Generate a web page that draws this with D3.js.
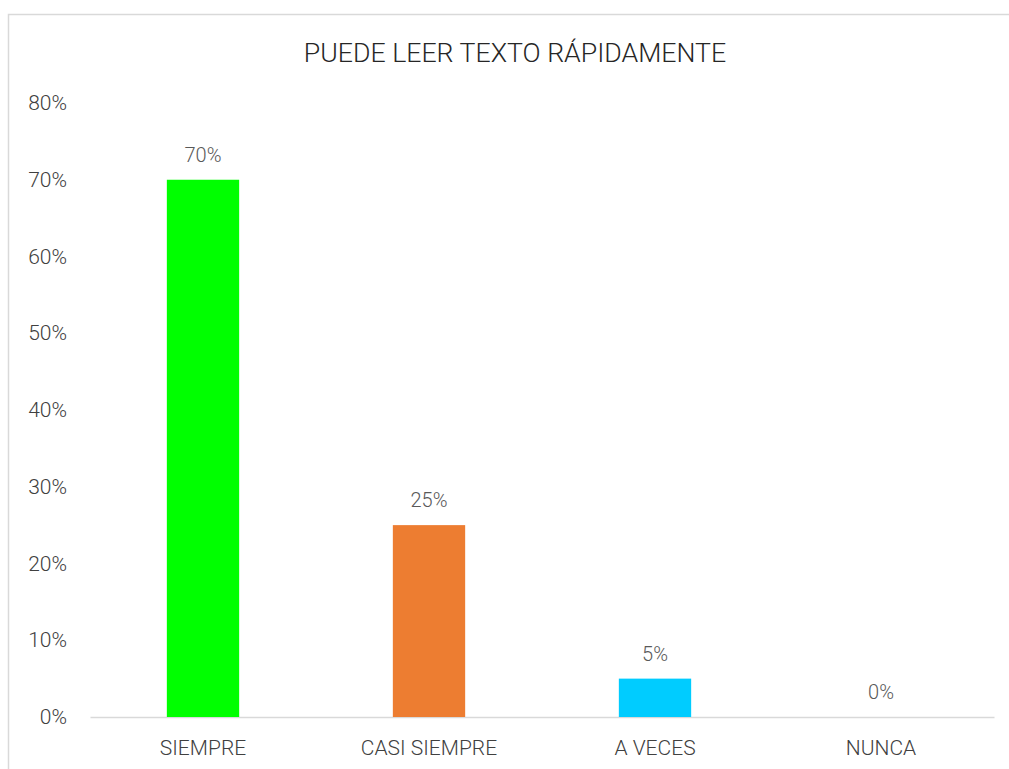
<!DOCTYPE html>
<html lang="es">
<head>
    <meta charset="UTF-8">
    <title>Puede leer texto rápidamente</title>
    <script src="https://d3js.org/d3.v7.min.js"></script>
    <style>
        body { margin: 0; background: #fff; }
        text { font-family: Roboto, "Noto Sans", sans-serif; font-weight: 300; }
    </style>
</head>
<body>
    <div id="chart"></div>
    <script>
        const categories = ["SIEMPRE", "CASI SIEMPRE", "A VECES", "NUNCA"];
        const values = [0.70, 0.25, 0.05, 0.00];
        const colors = ["#00ff00", "#ed7d31", "#00ccff", "#a5a5a5"];
        const yTicks = [0, 0.1, 0.2, 0.3, 0.4, 0.5, 0.6, 0.7, 0.8];

        const width = 1009, height = 769;
        const margin = { top: 103, right: 14, bottom: 52, left: 90 };

        const svg = d3.select("#chart").append("svg")
            .attr("width", width)
            .attr("height", height);

        // chart border
        svg.append("rect")
            .attr("x", 8.5).attr("y", 14.5)
            .attr("width", 1020).attr("height", 800)
            .attr("fill", "none")
            .attr("stroke", "#d9d9d9")
            .attr("stroke-width", 1.5);

        svg.append("text")
            .attr("x", 515).attr("y", 62)
            .attr("text-anchor", "middle")
            .attr("font-size", 26.7)
            .attr("fill", "#262626")
            .text("PUEDE LEER TEXTO RÁPIDAMENTE");

        const x = d3.scaleBand()
            .domain(categories)
            .range([margin.left, width - margin.right - 1])
            .paddingInner(0.68)
            .paddingOuter(0.34);

        const y = d3.scaleLinear()
            .domain([0, 0.8])
            .range([height - margin.bottom, margin.top]);

        // y labels (no axis line)
        const yAxis = svg.append("g")
            .attr("transform", `translate(${margin.left},0)`)
            .call(d3.axisLeft(y).tickValues(yTicks).tickFormat(d3.format(".0%")).tickSize(0).tickPadding(23));
        yAxis.select(".domain").remove();
        yAxis.selectAll("text")
            .attr("font-size", 21)
            .attr("fill", "#404040")
            .attr("font-family", "Roboto, sans-serif");

        // x axis
        const xAxis = svg.append("g")
            .attr("transform", `translate(0,${y(0)})`)
            .call(d3.axisBottom(x).tickSize(0).tickPadding(23));
        xAxis.select(".domain")
            .attr("stroke", "#d9d9d9")
            .attr("stroke-width", 1.5);
        xAxis.selectAll("text")
            .attr("font-size", 21)
            .attr("fill", "#404040")
            .attr("font-family", "Roboto, sans-serif");

        // bars
        svg.selectAll(".bar")
            .data(values)
            .join("rect")
            .attr("class", "bar")
            .attr("x", (d, i) => x(categories[i]))
            .attr("y", d => y(d))
            .attr("width", x.bandwidth())
            .attr("height", d => y(0) - y(d))
            .attr("fill", (d, i) => colors[i]);

        // data labels
        svg.selectAll(".lbl")
            .data(values)
            .join("text")
            .attr("class", "lbl")
            .attr("x", (d, i) => x(categories[i]) + x.bandwidth() / 2)
            .attr("y", d => y(d) - 18)
            .attr("text-anchor", "middle")
            .attr("font-size", 20)
            .attr("fill", "#595959")
            .text(d => d3.format(".0%")(d));
    </script>
</body>
</html>
